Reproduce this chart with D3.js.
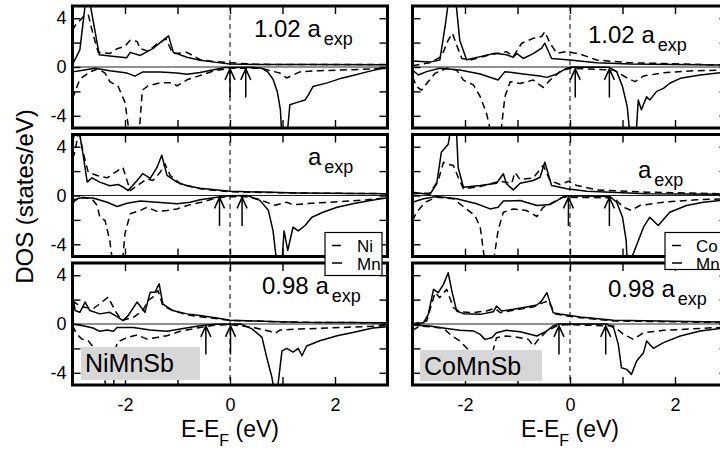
<!DOCTYPE html>
<html><head><meta charset="utf-8">
<script src="https://cdn.jsdelivr.net/npm/d3@7"></script>
<style>
body{margin:0;background:#fff}
svg{display:block}
text{font-family:"Liberation Sans",Arial,Helvetica,sans-serif;fill:#000}
</style>
</head><body>
<svg id="c" width="720" height="450"></svg>
<script>
// ---------- tick values and labels ----------
const E_TICKS = [-3,-2,-1,0,1,2,3];
const E_LABELS = [-2,0,2];
const DOS_TICKS = [-4,-2,0,2,4];
const DOS_LABELS = [-4,0,4];
const compounds = ["NiMnSb","CoMnSb"];
const elements = [["Ni","Mn"],["Co","Mn"]];
const latticeMain = ["1.02 a","a","0.98 a"];
const latticeSub = "exp";

// ---------- NiMnSb, 1.02 a_exp : [E, DOS] ----------
const ni102_Ni_up = [[-3.0,3.0],[-2.95,3.4],[-2.8,4.1],[-2.7,4.3],[-2.61,2.7],[-2.51,1.2],[-2.29,1.1],[-2.15,1.5],[-2.0,1.7],[-1.9,2.2],[-1.77,2.1],[-1.71,1.5],[-1.56,1.3],[-1.39,1.9],[-1.22,2.3],[-1.09,1.1],[-0.82,1.2],[-0.57,0.6],[-0.3,0.45],[0,0.35],[0.5,0.22],[1.5,0.2],[3,0.2]];
const ni102_Mn_up = [[-3.0,0.2],[-2.86,1.4],[-2.72,6.5],[-2.49,1.0],[-2.29,0.9],[-1.97,0.75],[-1.9,1.2],[-1.71,0.95],[-1.47,1.5],[-1.36,1.9],[-1.27,2.2],[-1.17,2.55],[-1.08,1.2],[-0.82,0.8],[-0.57,0.55],[-0.3,0.4],[0,0.25],[0.5,0.2],[1.5,0.2],[3,0.18]];
const ni102_Ni_dn = [[-3.0,-2.6],[-2.95,-2.0],[-2.86,-1.0],[-2.67,-0.4],[-2.51,-0.15],[-2.38,-0.5],[-2.29,-1.2],[-2.13,-1.6],[-2.0,-2.9],[-1.9,-6],[-1.74,-6],[-1.67,-1.9],[-1.56,-1.55],[-1.33,-1.3],[-1.09,-1.3],[-1.01,-1.55],[-0.82,-1.05],[-0.57,-0.7],[-0.29,-0.3],[0,-0.1],[0.6,-0.1],[0.86,-0.4],[0.95,-0.5],[1.08,-0.9],[1.33,-0.4],[1.71,-0.3],[2.5,-0.2],[3,-0.1]];
const ni102_Mn_dn = [[-3.0,-0.4],[-2.86,-0.3],[-2.57,-0.1],[-2.29,-0.3],[-1.96,-0.5],[-1.81,-0.75],[-1.66,-0.4],[-1.33,-0.4],[-1.01,-0.5],[-0.82,-0.6],[-0.57,-0.45],[-0.29,-0.2],[-0.1,-0.05],[0.4,-0.02],[0.6,-0.1],[0.72,-0.4],[0.82,-1.0],[0.9,-2.0],[0.96,-3.5],[0.99,-6],[1.08,-6],[1.14,-3.1],[1.28,-2.9],[1.43,-2.7],[1.49,-2.3],[1.58,-1.6],[1.85,-1.3],[2.1,-0.95],[2.34,-0.7],[2.61,-0.4],[2.86,-0.15],[3,-0.1]];

// ---------- NiMnSb, a_exp ----------
const ni100_Ni_up = [[-3.0,3.0],[-2.95,3.6],[-2.88,5.5],[-2.82,4.0],[-2.76,2.9],[-2.7,1.9],[-2.53,1.64],[-2.34,1.45],[-2.19,1.9],[-2.04,2.3],[-1.9,0.4],[-1.77,0.8],[-1.58,1.37],[-1.47,1.23],[-1.33,1.9],[-1.24,2.6],[-1.14,1.65],[-0.95,0.96],[-0.57,0.55],[0,0.3],[1.3,0.2],[3,0.15]];
const ni100_Mn_up = [[-3.0,4.4],[-2.9,6],[-2.8,3.4],[-2.72,1.1],[-2.63,1.45],[-2.48,1.1],[-2.29,0.8],[-2.13,0.9],[-2.04,0.7],[-1.94,0.4],[-1.77,1.23],[-1.66,1.8],[-1.52,1.4],[-1.39,2.3],[-1.30,3.3],[-1.2,1.65],[-1.01,1.1],[-0.82,0.8],[-0.57,0.6],[0,0.35],[1.3,0.2],[3,0.15]];
const ni100_Ni_dn = [[-3.0,-0.68],[-2.95,-0.4],[-2.8,-0.14],[-2.63,-0.27],[-2.53,-0.82],[-2.48,-1.78],[-2.38,-2.05],[-2.29,-3.69],[-2.22,-6],[-2.06,-6],[-2.0,-3.1],[-1.9,-1.5],[-1.71,-1.23],[-1.58,-0.96],[-1.39,-1.3],[-1.2,-1.23],[-1.01,-1.1],[-0.76,-0.75],[-0.55,-0.55],[-0.25,-0.2],[0,-0.1],[0.3,-0.1],[0.51,-0.27],[0.86,-0.8],[1.08,-0.55],[1.2,-0.75],[1.58,-0.63],[2.1,-0.5],[2.6,-0.35],[3.0,-0.19]];
const ni100_Mn_dn = [[-3.0,-0.4],[-2.86,-0.2],[-2.61,-0.2],[-2.34,-0.55],[-2.15,-0.9],[-1.96,-0.63],[-1.71,-0.46],[-1.39,-0.55],[-1.01,-0.68],[-0.76,-0.55],[-0.57,-0.35],[-0.25,-0.14],[0,-0.02],[0.33,0],[0.57,-0.4],[0.73,-1.2],[0.82,-2.9],[0.89,-5.5],[0.99,-5.5],[1.03,-2.9],[1.1,-4.5],[1.2,-2.6],[1.3,-2.9],[1.43,-2.46],[1.56,-1.78],[1.77,-1.37],[2.04,-0.96],[2.34,-0.68],[2.67,-0.41],[3.0,-0.19]];

// ---------- NiMnSb, 0.98 a_exp ----------
const ni098_Ni_up = [[-3.0,1.9],[-2.92,1.65],[-2.8,1.4],[-2.61,1.24],[-2.44,1.8],[-2.32,2.2],[-2.19,1.1],[-2.06,0.28],[-1.84,0.55],[-1.66,1.1],[-1.56,1.93],[-1.47,2.2],[-1.37,2.75],[-1.28,1.5],[-1.09,1.1],[-0.82,0.75],[-0.57,0.6],[0,0.3],[1.3,0.14],[3,0.1]];
const ni098_Mn_up = [[-3.0,2.5],[-2.95,1.1],[-2.86,0.96],[-2.76,1.8],[-2.67,1.1],[-2.48,0.83],[-2.29,0.96],[-2.15,0.6],[-2.04,0.28],[-1.94,0.69],[-1.77,1.8],[-1.62,0.96],[-1.52,2.6],[-1.43,2.6],[-1.35,3.3],[-1.28,1.65],[-1.09,1.1],[-0.82,0.83],[-0.57,0.69],[-0.25,0.5],[0,0.3],[1.3,0.14],[3,0.1]];
const ni098_Ni_dn = [[-3.0,-0.14],[-2.92,-0.82],[-2.82,-1.24],[-2.7,-1.37],[-2.61,-1.86],[-2.51,-2.0],[-2.44,-3.6],[-2.34,-5.5],[-2.22,-5.5],[-2.19,-2.4],[-2.15,-1.5],[-1.96,-1.1],[-1.77,-0.9],[-1.58,-1.24],[-1.39,-1.1],[-1.2,-0.96],[-0.95,-0.6],[-0.57,-0.28],[-0.3,-0.1],[0,-0.05],[0.44,-0.28],[0.76,-0.6],[0.86,-0.77],[0.95,-0.5],[1.33,-0.41],[1.85,-0.33],[3,-0.14]];
const ni098_Mn_dn = [[-3.0,0],[-2.8,-0.14],[-2.61,-0.33],[-2.48,-0.6],[-2.34,-0.5],[-2.22,-0.6],[-2.15,-0.28],[-1.84,-0.28],[-1.52,-0.5],[-1.2,-0.6],[-0.95,-0.41],[-0.57,-0.14],[-0.3,-0.03],[0.2,0],[0.42,-0.4],[0.61,-1.1],[0.7,-2.75],[0.8,-4.4],[0.84,-5.5],[0.9,-5.5],[0.99,-2.2],[1.08,-2.0],[1.2,-2.3],[1.3,-2.0],[1.37,-2.6],[1.46,-1.8],[1.71,-1.37],[2.04,-0.96],[2.34,-0.69],[2.72,-0.33],[3.0,-0.22]];

// ---------- CoMnSb, 1.02 a_exp ----------
const co102_Co_up = [[-3.0,0.1],[-2.67,0.35],[-2.45,0.85],[-2.32,2.2],[-2.24,2.76],[-2.16,1.8],[-2.06,0.7],[-1.9,0.57],[-1.52,1.0],[-1.21,1.26],[-1.08,0.85],[-0.92,1.95],[-0.7,2.35],[-0.54,2.5],[-0.48,2.9],[-0.38,1.95],[-0.25,1.13],[-0.06,1.26],[0.19,1.06],[0.51,0.57],[1.14,0.35],[2.1,0.25],[3,0.15]];
const co102_Mn_up = [[-3.0,0.5],[-2.67,0.4],[-2.48,0.57],[-2.38,3.3],[-2.28,6.5],[-2.2,6.5],[-2.1,2.2],[-1.97,0.6],[-1.71,0.85],[-1.43,1.13],[-1.21,1.0],[-1.08,0.8],[-1.01,1.1],[-0.89,0.7],[-0.7,1.1],[-0.54,1.55],[-0.48,1.95],[-0.35,0.7],[0,0.57],[0.51,0.35],[1.14,0.25],[3,0.15]];
const co102_Co_dn = [[-3.0,-0.8],[-2.92,-1.6],[-2.83,-1.9],[-2.73,-1.35],[-2.57,-0.52],[-2.35,-0.1],[-2.16,-0.25],[-2.03,-1.07],[-1.84,-1.47],[-1.71,-2.43],[-1.59,-3.8],[-1.5,-5.5],[-1.32,-5.5],[-1.24,-2.43],[-1.14,-1.2],[-0.95,-1.35],[-0.7,-1.07],[-0.51,-1.67],[-0.38,-1.07],[-0.19,-0.38],[0,-0.1],[0.83,-0.25],[1.1,-0.93],[1.24,-1.2],[1.4,-0.74],[1.78,-0.47],[2.41,-0.3],[3,-0.25]];
const co102_Mn_dn = [[-3.0,-0.25],[-2.89,-0.66],[-2.73,-0.38],[-2.48,-0.1],[-2.1,-0.25],[-1.71,-0.57],[-1.37,-1.07],[-1.24,-0.38],[-0.89,-0.57],[-0.57,-0.74],[-0.44,-0.85],[-0.25,-0.57],[-0.06,-0.1],[0.03,0],[0.75,-0.03],[0.89,-0.38],[1.0,-1.6],[1.09,-3.25],[1.14,-5.5],[1.26,-5.5],[1.3,-2.7],[1.36,-3.5],[1.46,-2.43],[1.52,-2.7],[1.65,-2.0],[1.78,-1.75],[1.9,-1.33],[2.1,-0.93],[2.48,-0.66],[2.86,-0.47],[3.0,-0.42]];

// ---------- CoMnSb, a_exp ----------
const co100_Co_up = [[-3.0,0.14],[-2.67,0.2],[-2.51,1.23],[-2.41,2.73],[-2.32,2.55],[-2.22,2.46],[-2.13,1.5],[-2.03,0.55],[-1.71,0.74],[-1.33,1.17],[-1.11,1.0],[-1.05,1.9],[-0.95,1.3],[-0.7,1.45],[-0.51,2.46],[-0.38,1.23],[-0.19,0.9],[-0.03,1.17],[0.13,0.82],[0.51,0.46],[1.46,0.27],[3,0.14]];
const co100_Mn_up = [[-3.0,0.27],[-2.67,0.08],[-2.54,0.96],[-2.45,3.55],[-2.32,4.2],[-2.25,6],[-2.17,6],[-2.13,2.3],[-2.03,0.68],[-1.71,0.82],[-1.4,1.0],[-1.27,1.78],[-1.21,0.96],[-1.08,0.46],[-0.95,1.0],[-0.7,1.23],[-0.57,1.5],[-0.48,2.73],[-0.35,0.82],[-0.06,0.55],[0.32,0.35],[1.46,0.14],[3,0.1]];
const co100_Co_dn = [[-3.0,-2.05],[-2.92,-1.37],[-2.76,-0.55],[-2.54,-0.14],[-2.22,-0.27],[-2.06,-0.82],[-1.81,-1.64],[-1.71,-2.6],[-1.62,-5.5],[-1.46,-5.5],[-1.37,-2.87],[-1.27,-1.37],[-1.08,-1.1],[-0.83,-1.23],[-0.63,-1.72],[-0.51,-0.96],[-0.32,-0.55],[-0.14,-0.14],[0.83,-0.19],[1.02,-0.96],[1.17,-1.23],[1.33,-0.82],[1.78,-0.55],[2.41,-0.35],[3,-0.27]];
const co100_Mn_dn = [[-3.0,-0.55],[-2.79,-0.27],[-2.54,-0.08],[-2.16,-0.27],[-1.78,-0.68],[-1.52,-1.1],[-1.37,-0.96],[-1.27,-0.46],[-0.95,-0.41],[-0.63,-0.82],[-0.38,-0.74],[-0.16,-0.19],[-0.05,-0.02],[0.76,-0.08],[0.89,-0.55],[1.0,-1.78],[1.07,-3.7],[1.09,-5.5],[1.14,-5.5],[1.4,-2.6],[1.52,-1.78],[1.68,-2.46],[1.9,-1.37],[2.22,-0.82],[2.54,-0.55],[3.0,-0.35]];

// ---------- CoMnSb, 0.98 a_exp ----------
const co098_Co_up = [[-3.0,0],[-2.73,0.25],[-2.57,2.57],[-2.48,2.16],[-2.35,2.84],[-2.22,1.34],[-2.1,1.0],[-1.84,0.93],[-1.59,1.07],[-1.43,1.29],[-1.33,0.93],[-1.08,1.12],[-0.7,1.4],[-0.51,1.75],[-0.41,1.89],[-0.29,0.85],[-0.06,0.66],[0.19,0.52],[0.83,0.25],[3,0.12]];
const co098_Mn_up = [[-3.0,0],[-2.79,0.1],[-2.7,0.79],[-2.6,2.84],[-2.51,2.57],[-2.41,3.25],[-2.32,4.2],[-2.25,2.7],[-2.16,1.07],[-2.03,0.85],[-1.71,0.79],[-1.46,1.0],[-1.4,1.47],[-1.3,1.07],[-1.08,1.2],[-0.83,1.4],[-0.63,1.56],[-0.54,1.89],[-0.44,2.57],[-0.32,0.93],[-0.16,0.79],[0.19,0.57],[0.83,0.3],[3,0.16]];
const co098_Co_dn = [[-3.0,-0.52],[-2.86,-0.16],[-2.6,-0.25],[-2.41,-0.36],[-2.25,-0.98],[-2.1,-1.39],[-1.94,-2.08],[-1.8,-3.5],[-1.65,-4.5],[-1.55,-3.5],[-1.46,-2.08],[-1.4,-1.12],[-1.21,-0.98],[-0.95,-1.12],[-0.79,-1.26],[-0.7,-1.8],[-0.6,-1.26],[-0.44,-0.57],[-0.25,-0.16],[-0.08,-0.05],[0.83,-0.16],[1.02,-0.85],[1.21,-1.26],[1.4,-0.71],[1.78,-0.52],[3,-0.25]];
const co098_Mn_dn = [[-3.0,-0.08],[-2.67,-0.16],[-2.35,-0.36],[-2.1,-0.52],[-1.84,-0.57],[-1.71,-0.85],[-1.62,-1.26],[-1.49,-1.12],[-1.4,-0.71],[-1.21,-0.52],[-0.95,-0.63],[-0.63,-0.98],[-0.44,-0.57],[-0.32,-0.16],[-0.22,0],[0.7,0],[0.83,-0.3],[0.92,-1.67],[0.98,-3.58],[1.08,-3.72],[1.17,-4.13],[1.27,-3.03],[1.4,-2.35],[1.46,-1.39],[1.59,-2.0],[1.78,-1.53],[2.1,-0.98],[2.48,-0.57],[3,-0.3]];

// ---------- arrows: band-edge energies [E1, E2] per panel ----------
const arrowsNi = [[0.0,0.30],[-0.20,0.23],[-0.46,0.01]];
const arrowsCo = [[0.10,0.75],[-0.03,0.75],[-0.21,0.68]];
const arrowDOS = [-0.15,-2.5]; // tip, tail

// ---------- tables built from the arrays ----------
const curveTable = [
  [[ni102_Ni_up,ni102_Ni_dn,ni102_Mn_up,ni102_Mn_dn],
   [ni100_Ni_up,ni100_Ni_dn,ni100_Mn_up,ni100_Mn_dn],
   [ni098_Ni_up,ni098_Ni_dn,ni098_Mn_up,ni098_Mn_dn]],
  [[co102_Co_up,co102_Co_dn,co102_Mn_up,co102_Mn_dn],
   [co100_Co_up,co100_Co_dn,co100_Mn_up,co100_Mn_dn],
   [co098_Co_up,co098_Co_dn,co098_Mn_up,co098_Mn_dn]]
];
const arrowTable = [arrowsNi, arrowsCo];

// ---------- layout ----------
const svg = d3.select("#c");
const FONT = '"Liberation Sans",Arial,Helvetica,sans-serif';
const colX = [72.5, 412.5], plotW = 315;
const panelTop = [6, 134.5, 263], panelH = 122;
const labelPos = [[[181.5,31],[235.5,30.5],[189.5,31]],[[175.5,37],[225.5,43.5],[195.5,34]]];
const DASH = "7,4.5";

const defs = svg.append("defs");
const line = (x,y) => d3.line().x(d=>x(d[0])).y(d=>y(d[1]));

colX.forEach((x0,c) => {
  const x = d3.scaleLinear().domain([-3,3]).range([x0, x0+plotW]);
  panelTop.forEach((top,p) => {
    const y = d3.scaleLinear().domain([-5,5]).range([top+panelH, top]);
    const id = `clip${c}${p}`;
    defs.append("clipPath").attr("id",id).append("rect")
      .attr("x",x0).attr("y",top).attr("width",plotW).attr("height",panelH);
    const g = svg.append("g").attr("clip-path",`url(#${id})`);
    // zero line
    g.append("line").attr("x1",x(-3)).attr("x2",x(3)).attr("y1",y(0)).attr("y2",y(0))
      .attr("stroke","#222").attr("stroke-width",1);
    // curves: 0,1 = Ni/Co (dashed); 2,3 = Mn (solid)
    curveTable[c][p].forEach((arr,i) => {
      g.append("path").attr("d", line(x,y)(arr)).attr("fill","none")
        .attr("stroke","#000").attr("stroke-width",1.5)
        .attr("stroke-linejoin","round")
        .attr("stroke-dasharray", i<2 ? DASH : null);
    });
    // arrows
    arrowTable[c][p].forEach(e => {
      const ax = x(e), ty = y(arrowDOS[0]), by = y(arrowDOS[1]);
      g.append("path").attr("d",`M${ax},${by}L${ax},${ty}M${ax-5},${ty+11}L${ax},${ty}L${ax+5},${ty+11}`)
        .attr("fill","none").attr("stroke","#000").attr("stroke-width",1.5);
    });
    // ticks (inward)
    const styleAxis = s => { s.select(".domain").remove(); s.selectAll(".tick line").attr("stroke-width",1.4); s.attr("font-family",FONT); };
    svg.append("g").attr("transform",`translate(0,${top})`)
      .call(d3.axisTop(x).tickValues(E_TICKS).tickSizeInner(-8).tickSizeOuter(0).tickFormat("")).call(styleAxis);
    const bot = svg.append("g").attr("transform",`translate(0,${top+panelH})`)
      .call(d3.axisBottom(x).tickValues(E_TICKS).tickSizeInner(-8).tickSizeOuter(0).tickPadding(13)
        .tickFormat(d => (p===2 && E_LABELS.includes(d)) ? String(d) : "")).call(styleAxis);
    bot.attr("font-size",18);
    const lft = svg.append("g").attr("transform",`translate(${x0},0)`)
      .call(d3.axisLeft(y).tickValues(DOS_TICKS).tickSizeInner(-8).tickSizeOuter(0).tickPadding(6)
        .tickFormat(d => (c===0 && DOS_LABELS.includes(d)) ? String(d) : "")).call(styleAxis);
    lft.attr("font-size",18);
    svg.append("g").attr("transform",`translate(${x0+plotW},0)`)
      .call(d3.axisRight(y).tickValues(DOS_TICKS).tickSizeInner(-8).tickSizeOuter(0).tickFormat("")).call(styleAxis);
    // border
    svg.append("rect").attr("x",x0).attr("y",top).attr("width",plotW).attr("height",panelH)
      .attr("fill","none").attr("stroke","#000").attr("stroke-width",3);
    // lattice label
    const [lx,ly] = labelPos[c][p];
    const t = svg.append("text").attr("x",x0+lx).attr("y",top+ly).attr("font-size",24);
    t.append("tspan").text(latticeMain[p]);
    t.append("tspan").attr("dx",3).attr("dy",8).attr("font-size",18).text(latticeSub);
  });
  // vertical dashed E_F line
  svg.append("line").attr("x1",x(0)).attr("x2",x(0)).attr("y1",panelTop[0]).attr("y2",panelTop[2]+panelH)
    .attr("stroke","#000").attr("stroke-width",1).attr("stroke-dasharray","5,4");
  // x axis title
  const xt = svg.append("text").attr("x",x(0)).attr("y",437).attr("text-anchor","middle").attr("font-size",23);
  xt.append("tspan").text("E-E");
  xt.append("tspan").attr("dy",9).attr("font-size",16).text("F");
  xt.append("tspan").attr("dy",-9).text(" (eV)");
  // compound label box
  const bx = c===0 ? [81,347,119,33] : [420,350,122,31];
  svg.append("rect").attr("x",bx[0]).attr("y",bx[1]).attr("width",bx[2]).attr("height",bx[3]).attr("fill","#d7d7d7");
  svg.append("text").attr("x",bx[0]+4).attr("y",c===0?372:375).attr("font-size",25).text(compounds[c]);
  // legend
  const lgx = c===0 ? 325 : 665, lgw = c===0 ? 57 : 70, lgh = c===0 ? 43 : 37;
  svg.append("rect").attr("x",lgx).attr("y",232.5).attr("width",lgw).attr("height",lgh)
    .attr("fill","#fff").attr("stroke","#000").attr("stroke-width",1.2);
  elements[c].forEach((el,i) => {
    const yy = i===0 ? 245.5 : 263;
    svg.append("line").attr("x1",lgx+7).attr("x2",lgx+17).attr("y1",yy).attr("y2",yy)
      .attr("stroke","#000").attr("stroke-width",1.5).attr("stroke-dasharray", i===0 ? "9,5" : null);
    svg.append("text").attr("x",lgx+(c===0?32:31)).attr("y",i===0?252:269.5).attr("font-size",17).text(el);
  });
});

// y axis title
svg.append("text").attr("transform","translate(33,196.5) rotate(-90)").attr("text-anchor","middle")
  .attr("font-size",24).text("DOS (states/eV)");
</script>
</body></html>
